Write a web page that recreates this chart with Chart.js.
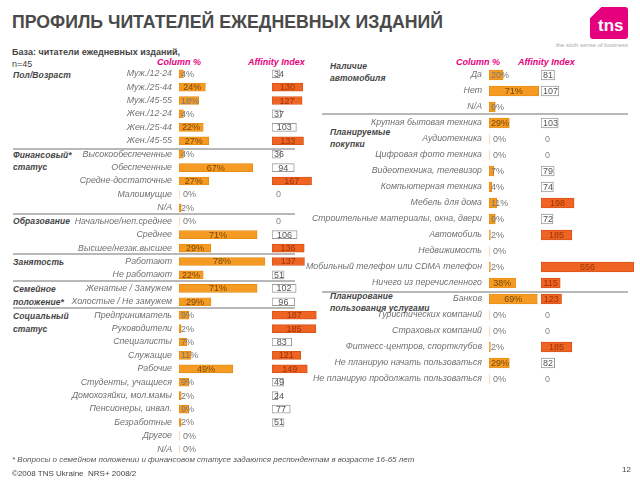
<!DOCTYPE html>
<html><head><meta charset="utf-8">
<script src="https://cdn.jsdelivr.net/npm/chart.js@4"></script>
<style>
body{margin:0;width:640px;height:480px;overflow:hidden;background:#fff;font-family:"Liberation Sans",Arial,sans-serif;position:relative}
.abs{position:absolute;white-space:nowrap}
canvas{position:absolute}
.grp{position:absolute;white-space:nowrap;font:italic bold 8.5px "Liberation Sans";color:#444;letter-spacing:0.1px;line-height:12px}
.hdr{position:absolute;white-space:nowrap;font:italic bold 9px "Liberation Sans";color:#E6007E;line-height:12px}
.sep{position:absolute;height:2px;background:#b8b8b8}
</style></head><body>
<div id="title" class="abs" style="left:12px;top:11px;font:bold 19px 'Liberation Sans';color:#4a4a4a;line-height:22px;transform-origin:0 50%">ПРОФИЛЬ ЧИТАТЕЛЕЙ ЕЖЕДНЕВНЫХ ИЗДАНИЙ</div>
<div class="abs" style="left:590px;top:7px;width:38px;height:32px;background:#E6007E;clip-path:polygon(30% 0,100% 0,100% 100%,0 100%,0 35%);border-radius:3px"></div>
<div class="abs" style="left:598px;top:17px;font:bold 17px 'Liberation Sans';color:#fff;line-height:18px">tns</div>
<div class="abs" style="left:548px;top:42px;width:80px;text-align:right;font:6px 'Liberation Sans';color:#aaa">the sixth sense of business</div>
<div class="abs" style="left:12px;top:46px;font:bold 9px 'Liberation Sans';color:#444;line-height:12px">База: читатели ежедневных изданий,<br><span style="font-weight:normal">n=45</span></div>

<div class="hdr" style="left:157px;top:56px">Column %</div>
<div class="hdr" style="left:248px;top:56px">Affinity Index</div>
<div class="hdr" style="left:456px;top:56px">Column %</div>
<div class="hdr" style="left:518px;top:56px">Affinity Index</div>

<div class="grp" style="left:13px;top:69px">Пол/Возраст</div>
<div class="grp" style="left:13px;top:149px">Финансовый*<br>статус</div>
<div class="grp" style="left:13px;top:215px">Образование</div>
<div class="grp" style="left:13px;top:256px">Занятость</div>
<div class="grp" style="left:13px;top:283px;line-height:13px">Семейное<br>положение*</div>
<div class="grp" style="left:13px;top:310px;line-height:13px">Социальный<br>статус</div>
<div class="grp" style="left:330px;top:61px;line-height:11.5px">Наличие<br>автомобиля</div>
<div class="grp" style="left:330px;top:127px;line-height:11.5px">Планируемые<br>покупки</div>
<div class="grp" style="left:330px;top:290px;line-height:12px">Планирование<br>пользования услугами</div>

<div class="sep" style="left:13px;width:282px;top:148px"></div>
<div class="sep" style="left:13px;width:282px;top:213px"></div>
<div class="sep" style="left:13px;width:282px;top:253px"></div>
<div class="sep" style="left:13px;width:282px;top:280px"></div>
<div class="sep" style="left:13px;width:282px;top:307px"></div>
<div class="sep" style="left:322px;width:306px;top:113px"></div>
<div class="sep" style="left:322px;width:306px;top:291px"></div>

<canvas id="lc" width="272" height="389" style="left:0;top:67px"></canvas>
<canvas id="la" width="62" height="389" style="left:272px;top:67px"></canvas>
<canvas id="rc" width="241" height="320" style="left:300px;top:66.5px"></canvas>
<canvas id="ra" width="99" height="320" style="left:541px;top:66.5px"></canvas>

<div class="abs" style="left:12px;top:455px;font:italic 8px 'Liberation Sans';color:#555">* Вопросы о семейном положении и финансовом статусе задаются респондентам в возрасте 16-65 лет</div>
<div class="abs" style="left:12px;top:469px;font:8px 'Liberation Sans';color:#444">©2008 TNS Ukraine&nbsp; NRS+ 2008/2</div>
<div class="abs" style="left:622px;top:465px;font:8px 'Liberation Sans';color:#444">12</div>

<script>
const leftCategories = ['Муж./12-24','Муж./25-44','Муж./45-55','Жен./12-24','Жен./25-44','Жен./45-55',
  'Высокообеспеченные','Обеспеченные','Средне-достаточные','Малоимущие','N/A',
  'Начальное/неп.среднее','Среднее','Высшее/незак.высшее',
  'Работают','Не работают',
  'Женатые / Замужем','Холостые / Не замужем',
  'Предприниматель','Руководители','Специалисты','Служащие','Рабочие','Студенты, учащиеся',
  'Домохозяйки, мол.мамы','Пенсионеры, инвал.','Безработные','Другое','N/A'];
const leftColumnPct = [4,24,18,4,22,27, 4,67,27,0,2, 0,71,29, 78,22, 71,29, 9,2,7,11,49,9,2,9,2,0,0];
const leftAffinity  = [34,130,127,37,103,133, 36,94,167,0,null, 0,106,136, 137,51, 102,96, 187,185,83,121,149,49,24,77,51,null,null];

const rightCategories = ['Да','Нет','N/A',
  'Крупная бытовая техника','Аудиотехника','Цифровая фото техника','Видеотехника, телевизор',
  'Компьютерная техника','Мебель для дома','Строительные материалы, окна, двери','Автомобиль',
  'Недвижимость','Мобильный телефон или CDMA телефон','Ничего из перечисленного',
  'Банков','Туристических компаний','Страховых компаний','Фитнесс-центров, спортклубов',
  'Не планирую начать пользоваться','Не планирую продолжать пользоваться'];
const rightColumnPct = [20,71,9, 29,0,0,7,4,11,9,2,0,2,38, 69,0,0,2,29,0];
const rightAffinity  = [81,107,null, 103,0,0,79,74,198,72,185,null,556,115, 123,0,0,185,82,0];

const HIGH = 110;
const COL_FILL = '#F59B23', COL_EDGE = '#E08A12';
const AFF_FILL = '#EF6422', AFF_EDGE = '#D8551A';

// fit title width
(function(){const t=document.getElementById('title');const w=t.getBoundingClientRect().width;t.style.transform='scaleX('+(431/w)+')';})();

const valueLabels = {
  id:'valueLabels',
  afterDatasetsDraw(chart, args, opts){
    const ctx = chart.ctx;
    const meta = chart.getDatasetMeta(0);
    const data = chart.data.datasets[0].data;
    const left = chart.chartArea.left;
    ctx.save();
    ctx.font = '9px "Liberation Sans"';
    ctx.textBaseline = 'middle';
    ctx.textAlign = 'center';
    meta.data.forEach((bar, i) => {
      const v = data[i];
      if (v === null || v === undefined) return;
      const txt = opts.kind === 'pct' ? v + '%' : String(v);
      const w = ctx.measureText(txt).width;
      const bw = bar.x - left;
      const minOff = v === 0 ? 4 : 2;
      const cx = Math.max(left + bw / 2, left + minOff + w / 2);
      let color;
      if (opts.kind === 'pct') color = bw >= w + 2 ? '#7a4706' : '#777';
      else color = v > HIGH ? '#9a3508' : (v === 0 ? '#888' : '#555');
      ctx.fillStyle = color;
      ctx.fillText(txt, cx, bar.y + 0.5);
    });
    ctx.restore();
  }
};

function colChart(id, labels, data, axisW, xmax, thick){
  return new Chart(document.getElementById(id), {
    type:'bar',
    data:{labels, datasets:[{data, backgroundColor:COL_FILL, borderColor:COL_EDGE,
      borderWidth:c=>c.raw>0?0.8:0, borderSkipped:false, barThickness:thick}]},
    options:{indexAxis:'y', responsive:false, animation:false, layout:{padding:0},
      plugins:{legend:{display:false}, tooltip:{enabled:false}, valueLabels:{kind:'pct'}},
      scales:{
        y:{type:'category', grid:{display:false, drawTicks:false}, border:{display:false},
          ticks:{autoSkip:false, padding:7, color:'#707070', font:{family:'Liberation Sans', size:8.8, style:'italic'}},
          afterFit(s){ s.width = axisW; s.paddingTop = 0; s.paddingBottom = 0; }},
        x:{display:false, min:0, max:xmax}
      }},
    plugins:[valueLabels]
  });
}
function affChart(id, labels, data, xmax, thick){
  return new Chart(document.getElementById(id), {
    type:'bar',
    data:{labels, datasets:[{data,
      backgroundColor:c=>c.raw>HIGH?AFF_FILL:'#ffffff',
      borderColor:c=>c.raw>HIGH?AFF_EDGE:'#9a9a9a',
      borderWidth:c=>c.raw>0?1:0, borderSkipped:false, barThickness:thick}]},
    options:{indexAxis:'y', responsive:false, animation:false, layout:{padding:0},
      plugins:{legend:{display:false}, tooltip:{enabled:false}, valueLabels:{kind:'aff'}},
      scales:{ y:{display:false}, x:{display:false, min:0, max:xmax} }},
    plugins:[valueLabels]
  });
}

colChart('lc', leftCategories, leftColumnPct, 179, 93/1.1, 8);
affChart('la', leftCategories, leftAffinity, 62/0.237, 8);
colChart('rc', rightCategories, rightColumnPct, 189, 52/0.70, 10);
affChart('ra', rightCategories, rightAffinity, 99/0.167, 10);
</script>
</body></html>
